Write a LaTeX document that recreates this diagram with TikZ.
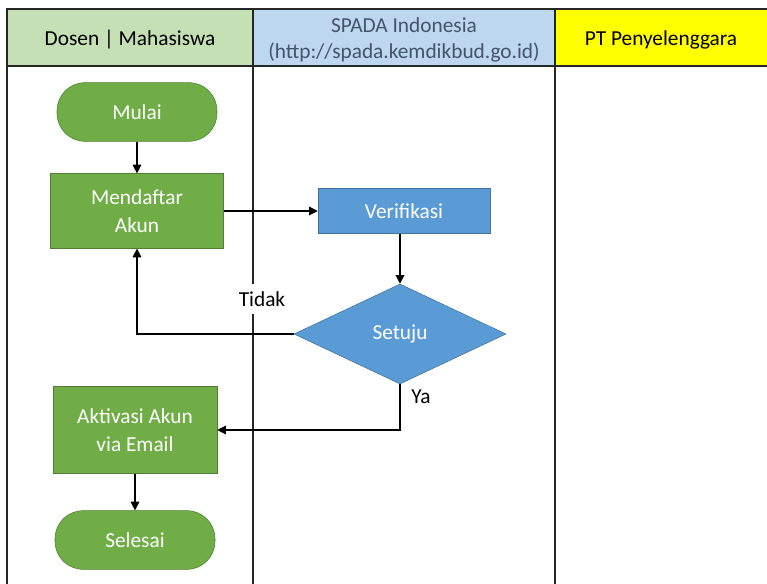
\documentclass[tikz,border=0pt]{standalone}
\usepackage{fontspec}
\setmainfont{Carlito}
\usetikzlibrary{arrows.meta,shapes.geometric,positioning}

\definecolor{hdrgreen}{HTML}{C5E0B4}
\definecolor{hdrblue}{HTML}{BDD7EE}
\definecolor{hdryellow}{HTML}{FFFF00}
\definecolor{hdrtext}{HTML}{44546A}
\definecolor{actgreen}{HTML}{70AD47}
\definecolor{actgreenline}{HTML}{507E32}
\definecolor{actblue}{HTML}{5B9BD5}
\definecolor{actblueline}{HTML}{41719C}

\begin{document}
\begin{tikzpicture}[x=0.75pt, y=-0.75pt, >={Triangle[length=6.5pt,width=6.5pt]},
  every node/.style={font=\fontsize{16}{21}\selectfont},
  lane/.style={draw=black!85, line width=1.1pt},
  terminal/.style={rectangle, rounded corners=21pt, fill=actgreen, draw=actgreenline, text=white, minimum width=120pt, minimum height=44pt},
  greenbox/.style={rectangle, fill=actgreen, draw=actgreenline, text=white, align=center},
  bluebox/.style={rectangle, fill=actblue, draw=actblueline, text=white, align=center},
  flow/.style={->, line width=0.9pt}]
\path[use as bounding box] (0,0) rectangle (767,584);
% swimlane header
\fill[hdrgreen] (7,9) rectangle (253,66);
\fill[hdrblue] (253,9) rectangle (555,66);
\fill[hdryellow] (555,9) rectangle (767,66);
\draw[lane] (767,9) -- (7,9) -- (7,584);
\draw[lane] (7,66) -- (767,66);
\draw[lane] (253,9) -- (253,584);
\draw[lane] (555,9) -- (555,584);
\node (lane1) at (130,40) {Dosen | Mahasiswa};
\node[text=hdrtext, align=center, font=\fontsize{16}{19}\selectfont] (lane2) at (404,40) {SPADA Indonesia\\(http://spada.kemdikbud.go.id)};
\node (lane3) at (661,40) {PT Penyelenggara};
% flow
\node[terminal] (mulai) at (137,112) {Mulai};
\node[greenbox, minimum width=130pt, minimum height=56pt] (daftar) at (137,211) {Mendaftar\\Akun};
\node[bluebox, minimum width=129pt, minimum height=34pt] (verif) at (404,211) {Verifikasi};
\node[diamond, fill=actblue, draw=actblueline, text=white, minimum width=159pt, minimum height=75pt, inner sep=0pt] (setuju) at (400,334) {Setuju};
\node[greenbox, minimum width=123pt, minimum height=65pt] (aktivasi) at (135,430) {Aktivasi Akun\\via Email};
\node[terminal] (selesai) at (135,540) {Selesai};
\node[fill=white, inner xsep=2pt, inner ysep=6pt] (tidak) at (262,299) {Tidak};
\node (ya) at (421,397) {Ya};
\draw[flow] (mulai) -- (daftar);
\draw[flow] (daftar.east) -- (verif.west);
\draw[flow] (setuju.north |- verif.south) -- (setuju.north);
\draw[flow] (setuju.west) -| (daftar.south);
\draw[flow] (setuju.south) |- (aktivasi.east);
\draw[flow] (aktivasi) -- (selesai);
\end{tikzpicture}
\end{document}
